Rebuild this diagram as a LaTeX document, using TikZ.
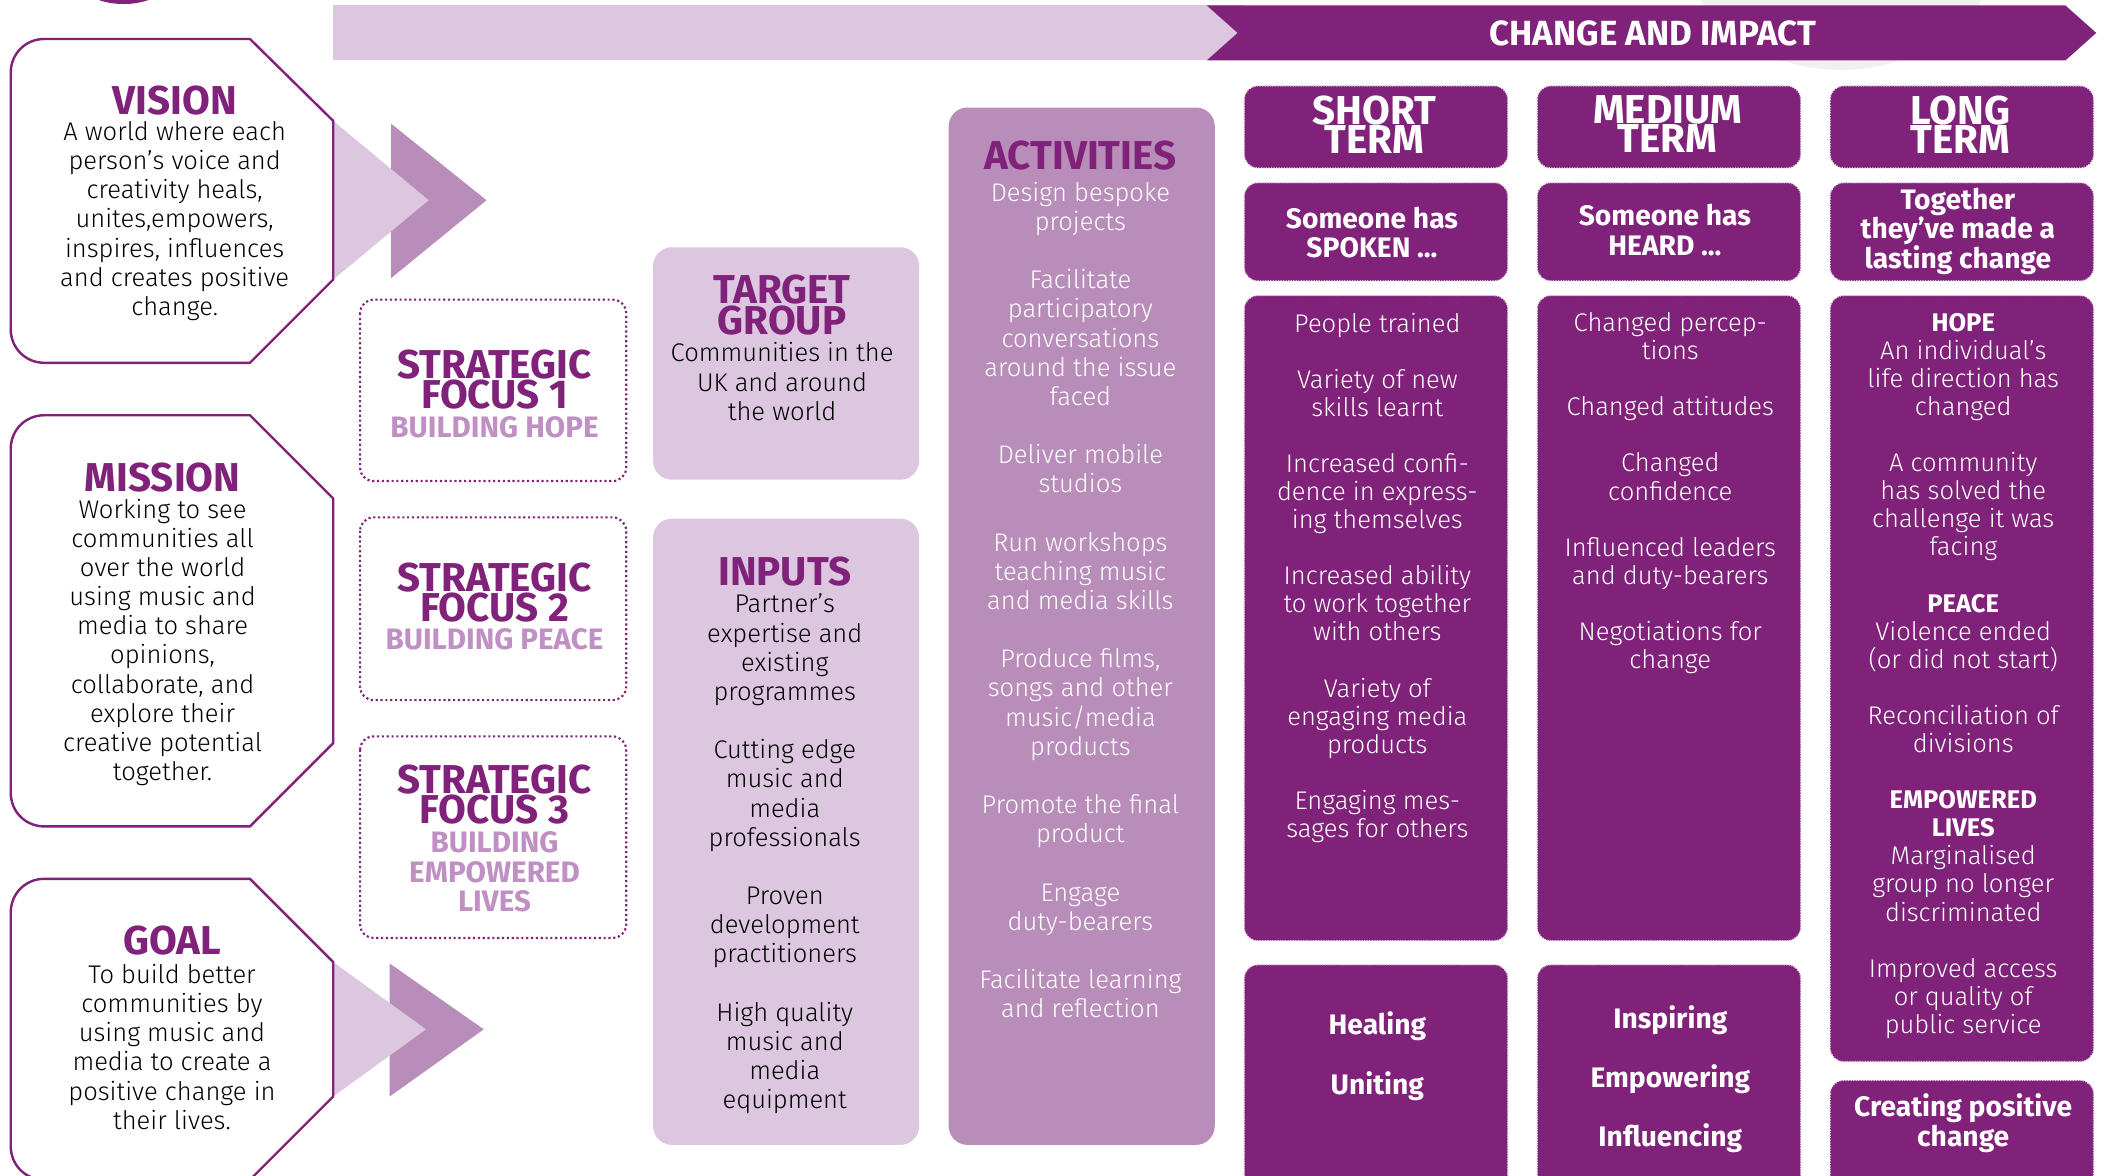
\documentclass[tikz,border=0pt]{standalone}
\usepackage{fontspec}
\setmainfont{Fira Sans}
\newfontfamily\bodyf{Fira Sans Light}
\newfontfamily\headf{Fira Sans}
\definecolor{dkp}{RGB}{128,34,122}
\definecolor{medp}{RGB}{185,141,186}
\definecolor{ltp}{RGB}{220,198,224}
\definecolor{subp}{RGB}{192,143,196}
\begin{document}
\begin{tikzpicture}[x=1pt,y=-1pt,
 ttl/.style={font=\headf\bfseries\fontsize{30}{22.5}\selectfont, text=dkp, align=center, inner sep=0pt},
 bod/.style={font=\bodyf\fontsize{19}{21.7}\selectfont, align=center, inner sep=0pt},
 rbod/.style={font=\bodyf\fontsize{19}{20.9}\selectfont, align=center, inner sep=0pt, text=white},
 rhd/.style={font=\headf\bfseries\fontsize{20.5}{20.9}\selectfont},
 wbold/.style={font=\headf\bfseries\fontsize{21}{22}\selectfont, align=center, inner sep=0pt, text=white},
 wttl/.style={font=\headf\bfseries\fontsize{30}{21.5}\selectfont, align=center, inner sep=0pt, text=white},
 subt/.style={font=\headf\bfseries\fontsize{22}{22}\selectfont, text=subp, align=center, inner sep=0pt},
 leftbox/.style={draw=dkp, line width=1.8pt, fill=white},
 focusbox/.style={draw=dkp, dotted, line width=1.6pt, rounded corners=10pt, fill=white},
 ltbox/.style={fill=ltp, rounded corners=14pt},
 medbox/.style={fill=medp, rounded corners=14pt},
 impbox/.style={fill=dkp, draw=ltp, densely dotted, line width=0.9pt, rounded corners=10pt}
]
\useasboundingbox (0,0) rectangle (1568,875);
\clip (0,0) rectangle (1568,875);
\fill[white] (0,0) rectangle (1568,875);

% decorative shapes at top
\fill[dkp] (92,-18) ellipse (36 and 21);
\fill[black!6] (1370,-50) ellipse (120 and 102);

% banner
\fill[ltp] (248,4) rectangle (925,45);
\fill[dkp] (898,4) -- (1537,4) -- (1560,24.5) -- (1537,45) -- (898,45) -- (921,24.5) -- cycle;
\node[font=\headf\bfseries\fontsize{26}{28}\selectfont, text=white, inner sep=0pt] (banner) at (1230,24.5) {CHANGE AND IMPACT};

% chevrons
\fill[medp] (291,92) -- (362,149) -- (291,207) -- cycle;
\fill[ltp] (248,90) -- (319,149) -- (248,208) -- cycle;
\fill[medp] (290,717) -- (360,766) -- (290,816) -- cycle;
\fill[ltp] (248,716) -- (317,766) -- (248,816) -- cycle;

% left boxes
\draw[leftbox] (100,29) -- (186,29) -- (248,90) -- (248,208) -- (186,270) -- (33,270) .. controls (19,270) and (8,259) .. (8,245) -- (8,54) .. controls (8,40) and (19,29) .. (33,29) -- cycle;
\draw[leftbox] (100,309) -- (186,309) -- (248,371) -- (248,553) -- (186,615) -- (33,615) .. controls (19,615) and (8,604) .. (8,590) -- (8,334) .. controls (8,320) and (19,309) .. (33,309) -- cycle;
\draw[leftbox] (100,654) -- (186,654) -- (248,716) -- (248,816) -- (186,878) -- (33,878) .. controls (19,878) and (8,867) .. (8,853) -- (8,679) .. controls (8,665) and (19,654) .. (33,654) -- cycle;

\node[ttl] (visionT) at (130,75) {VISION};
\node[bod] (visionB) at (130,164.5) {A world where each\\person’s voice and\\creativity heals,\\unites,empowers,\\inspires, influences\\and creates positive\\change.};
\node[ttl] (missionT) at (121,355) {MISSION};
\node[bod] (missionB) at (121,478) {Working to see\\communities all\\over the world\\using music and\\media to share\\opinions,\\collaborate, and\\explore their\\creative potential\\together.};
\node[ttl] (goalT) at (128,700) {GOAL};
\node[bod] (goalB) at (128,779) {To build better\\communities by\\using music and\\media to create a\\positive change in\\their lives.};

% strategic focus
\draw[focusbox] (268,223) rectangle (466,358);
\draw[focusbox] (268,385) rectangle (466,521);
\draw[focusbox] (268,548) rectangle (466,698);
\node[ttl] (sf1) at (368,282.5) {STRATEGIC\\FOCUS 1};
\node[subt] (sf1s) at (368,318) {BUILDING HOPE};
\node[ttl] (sf2) at (368,441) {STRATEGIC\\FOCUS 2};
\node[subt] (sf2s) at (368,476) {BUILDING PEACE};
\node[ttl] (sf3) at (368,591.5) {STRATEGIC\\FOCUS 3};
\node[subt] (sf3s) at (368,649) {BUILDING\\EMPOWERED\\LIVES};

% target group and inputs
\fill[ltbox] (486,184) rectangle (684,357);
\node[ttl] (tgT) at (582,227) {TARGET\\GROUP};
\node[bod] (tgB) at (582,284) {Communities in the\\UK and around\\the world};
\fill[ltbox] (486,386) rectangle (684,852);
\node[ttl] (inT) at (584,425) {INPUTS};
\node[bod] (inB) at (584,635.5) {Partner’s\\expertise and\\existing\\programmes\\[21.7pt]Cutting edge\\music and\\media\\professionals\\[21.7pt]Proven\\development\\practitioners\\[21.7pt]High quality\\music and\\media\\equipment};

% activities
\fill[medbox] (706,80) rectangle (904,852);
\node[ttl] (acT) at (804,116) {ACTIVITIES};
\node[bod, text=white] (acB) at (804,446.5) {Design bespoke\\projects\\[21.7pt]Facilitate\\participatory\\conversations\\around the issue\\faced\\[21.7pt]Deliver mobile\\studios\\[21.7pt]Run workshops\\teaching music\\and media skills\\[21.7pt]Produce films,\\songs and other\\music/media\\products\\[21.7pt]Promote the final\\product\\[21.7pt]Engage\\duty-bearers\\[21.7pt]Facilitate learning\\and reflection};

% change and impact columns
\draw[impbox] (926,64) rectangle (1122,125);
\draw[impbox] (1144,64) rectangle (1340,125);
\draw[impbox] (1362,64) rectangle (1558,125);
\node[wttl] (stT) at (1023,92.5) {SHORT\\TERM};
\node[wttl] (mtT) at (1241,92.5) {MEDIUM\\TERM};
\node[wttl] (ltT) at (1459,92.5) {LONG\\TERM};

\draw[impbox] (926,136) rectangle (1122,209);
\draw[impbox] (1144,136) rectangle (1340,209);
\draw[impbox] (1362,136) rectangle (1558,209);
\node[wbold] (stS) at (1021,173) {Someone has\\SPOKEN ...};
\node[wbold] (mtS) at (1239,171) {Someone has\\HEARD ...};
\node[wbold] (ltS) at (1457,172) {Together\\they’ve made a\\lasting change};

\draw[impbox] (926,220) rectangle (1122,700);
\draw[impbox] (1144,220) rectangle (1340,700);
\draw[impbox] (1362,220) rectangle (1558,790);
\node[rbod] (stB) at (1025,430) {People trained\\[20.9pt]Variety of new\\skills learnt\\[20.9pt]Increased confi-\\dence in express-\\ing themselves\\[20.9pt]Increased ability\\to work together\\with others\\[20.9pt]Variety of\\engaging media\\products\\[20.9pt]Engaging mes-\\sages for others};
\node[rbod] (mtB) at (1243,367) {Changed percep-\\tions\\[20.9pt]Changed attitudes\\[20.9pt]Changed\\confidence\\[20.9pt]Influenced leaders\\and duty-bearers\\[20.9pt]Negotiations for\\change};
\node[rbod] (ltB) at (1461,503) {{\headf\bfseries HOPE}\\An individual’s\\life direction has\\changed\\[20.9pt]A community\\has solved the\\challenge it was\\facing\\[20.9pt]{\headf\bfseries PEACE}\\Violence ended\\(or did not start)\\[20.9pt]Reconciliation of\\divisions\\[20.9pt]{\headf\bfseries EMPOWERED}\\{\headf\bfseries LIVES}\\Marginalised\\group no longer\\discriminated\\[20.9pt]Improved access\\or quality of\\public service};

\draw[impbox] (926,718) rectangle (1122,885);
\draw[impbox] (1144,718) rectangle (1340,885);
\draw[impbox] (1362,804) rectangle (1558,885);
\node[wbold] (stE) at (1025,786) {Healing\\[22pt]Uniting};
\node[wbold] (mtE) at (1243,803) {Inspiring\\[22pt]Empowering\\[22pt]Influencing};
\node[wbold] (ltE) at (1461,836) {Creating positive\\change};
\end{tikzpicture}
\end{document}
